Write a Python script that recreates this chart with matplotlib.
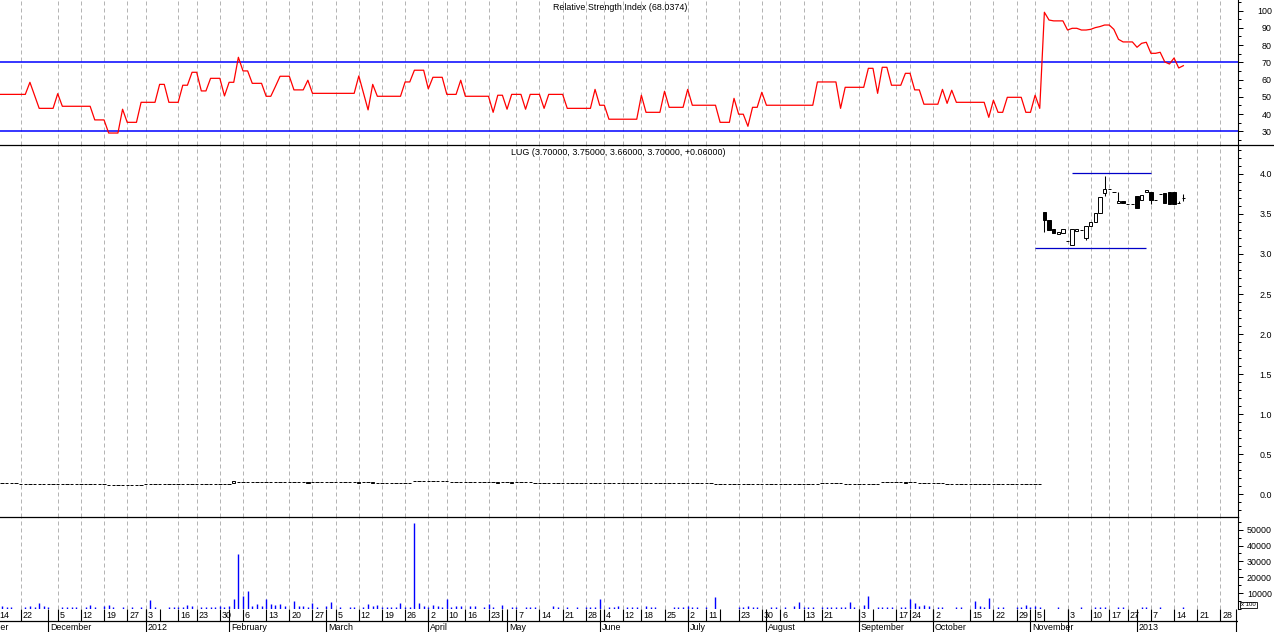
import numpy as np
import matplotlib.pyplot as plt
from matplotlib.lines import Line2D
from matplotlib.patches import Rectangle
from matplotlib.ticker import MultipleLocator

plt.rcParams['font.family'] = ['Liberation Sans', 'DejaVu Sans']

# RSI value per trading bar (bar 0 = 14 Nov 2011, last bar = mid Jan 2013)
rsi = [51.4, 51.4, 51.4, 51.4, 51.4, 51.4, 51.4, 58.4, 50.8, 43.3,
       43.3, 43.3, 43.3, 51.8, 44.5, 44.5, 44.5, 44.5, 44.5, 44.5,
       44.5, 36.6, 36.6, 36.6, 29.0, 29.0, 29.0, 42.8, 35.2, 35.2,
       35.2, 46.8, 46.8, 46.8, 46.8, 57.2, 57.2, 46.8, 46.8, 46.8,
       56.7, 56.7, 64.2, 64.2, 53.4, 53.4, 60.7, 60.7, 60.7, 50.5,
       58.4, 58.4, 72.9, 65.0, 65.0, 57.8, 57.8, 57.8, 50.3, 50.3,
       56.0, 61.9, 61.9, 61.9, 54.0, 54.0, 54.0, 59.6, 52.0, 52.0,
       52.0, 52.0, 52.0, 52.0, 52.0, 52.0, 52.0, 52.0, 62.1, 52.2,
       42.4, 57.2, 50.3, 50.3, 50.3, 50.3, 50.3, 50.3, 58.6, 58.6,
       65.4, 65.4, 65.4, 54.6, 61.3, 61.3, 61.3, 51.4, 51.4, 51.4,
       59.6, 50.3, 50.3, 50.3, 50.3, 50.3, 50.3, 41.0, 50.9, 50.9,
       42.8, 51.4, 51.4, 51.4, 42.8, 51.4, 51.4, 51.4, 43.3, 51.4,
       51.4, 51.4, 51.4, 43.3, 43.3, 43.3, 43.3, 43.3, 43.3, 54.3,
       45.1, 45.1, 37.0, 37.0, 37.0, 37.0, 37.0, 37.0, 37.0, 50.9,
       41.0, 41.0, 41.0, 41.0, 53.2, 43.9, 43.9, 43.9, 43.9, 54.3,
       45.1, 45.1, 45.1, 45.1, 45.1, 45.1, 35.2, 35.2, 35.2, 49.1,
       39.9, 39.9, 32.9, 43.9, 43.9, 52.6, 45.1, 45.1, 45.1, 45.1,
       45.1, 45.1, 45.1, 45.1, 45.1, 45.1, 45.1, 58.6, 58.6, 58.6,
       58.6, 58.6, 43.3, 55.5, 55.5, 55.5, 55.5, 55.5, 66.5, 66.5,
       52.0, 67.1, 67.1, 56.7, 56.7, 56.7, 63.6, 63.6, 54.0, 54.0,
       45.7, 45.7, 45.7, 45.7, 54.3, 46.2, 53.8, 46.8, 46.8, 46.8,
       46.8, 46.8, 46.8, 46.8, 38.1, 48.0, 41.0, 41.0, 49.7, 49.7,
       49.7, 49.7, 41.0, 41.0, 50.9, 43.3, 99.0, 94.5, 94.0, 94.0,
       94.0, 88.7, 89.7, 89.7, 88.7, 88.7, 89.1, 90.1, 90.7, 91.6,
       91.6, 89.1, 83.3, 81.8, 81.8, 81.8, 78.7, 81.0, 81.6, 75.2,
       75.2, 75.8, 70.2, 69.0, 72.5, 66.7, 68.04]

# old quote before the jump (bars 0-225), mostly flat dashes
old_close = [0.133, 0.133, 0.133, 0.133, 0.133, 0.125, 0.125, 0.125, 0.125, 0.125,
             0.130, 0.130, 0.130, 0.125, 0.125, 0.125, 0.125, 0.125, 0.125, 0.125,
             0.125, 0.125, 0.125, 0.125, 0.115, 0.115, 0.115, 0.115, 0.115, 0.115,
             0.115, 0.115, 0.120, 0.120, 0.120, 0.120, 0.120, 0.120, 0.120, 0.120,
             0.127, 0.127, 0.127, 0.127, 0.127, 0.127, 0.127, 0.127, 0.127, 0.127,
             0.127, 0.162, 0.146, 0.146, 0.146, 0.146, 0.146, 0.146, 0.146, 0.146,
             0.146, 0.146, 0.146, 0.150, 0.150, 0.150, 0.150, 0.150, 0.146, 0.146,
             0.146, 0.146, 0.146, 0.146, 0.146, 0.146, 0.146, 0.146, 0.150, 0.150,
             0.150, 0.150, 0.142, 0.142, 0.142, 0.142, 0.142, 0.142, 0.142, 0.142,
             0.162, 0.162, 0.162, 0.162, 0.162, 0.162, 0.162, 0.162, 0.154, 0.154,
             0.154, 0.154, 0.154, 0.154, 0.154, 0.154, 0.154, 0.154, 0.146, 0.146,
             0.146, 0.146, 0.146, 0.146, 0.146, 0.146, 0.140, 0.140, 0.140, 0.140,
             0.140, 0.140, 0.140, 0.140, 0.140, 0.140, 0.140, 0.140, 0.140, 0.140,
             0.140, 0.140, 0.140, 0.140, 0.140, 0.140, 0.140, 0.140, 0.140, 0.133,
             0.133, 0.133, 0.133, 0.133, 0.133, 0.133, 0.133, 0.133, 0.133, 0.133,
             0.133, 0.133, 0.133, 0.133, 0.133, 0.125, 0.125, 0.125, 0.125, 0.125,
             0.128, 0.128, 0.128, 0.128, 0.128, 0.128, 0.128, 0.125, 0.125, 0.125,
             0.125, 0.125, 0.125, 0.125, 0.125, 0.125, 0.125, 0.125, 0.133, 0.133,
             0.133, 0.133, 0.133, 0.130, 0.130, 0.130, 0.130, 0.130, 0.130, 0.130,
             0.130, 0.146, 0.146, 0.146, 0.146, 0.146, 0.146, 0.146, 0.146, 0.133,
             0.133, 0.133, 0.133, 0.133, 0.133, 0.130, 0.130, 0.130, 0.130, 0.130,
             0.130, 0.130, 0.130, 0.130, 0.130, 0.130, 0.125, 0.125, 0.125, 0.125,
             0.125, 0.125, 0.125, 0.125, 0.125, 0.121]
old_box_bars = [51, 67, 78, 81, 88, 108, 111, 116, 119, 190, 196]
old_box_open = [0.142, 0.140, 0.142, 0.143, 0.136, 0.140, 0.139, 0.133, 0.133, 0.123, 0.138]

# candles after the jump (bars 226-256)
new_open = [3.52, 3.43, 3.31, 3.255, 3.267, 3.16, 3.11, 3.29, 3.30, 3.20,
            3.35, 3.395, 3.51, 3.76, 3.81, 3.77, 3.635, 3.66, 3.63, 3.625,
            3.725, 3.675, 3.77, 3.78, 3.68, 3.745, 3.76, 3.77, 3.77, 3.64, 3.70]
new_high = [3.52, 3.43, 3.31, 3.27, 3.309, 3.16, 3.31, 3.31, 3.30, 3.35,
            3.395, 3.51, 3.71, 3.975, 3.81, 3.77, 3.77, 3.66, 3.63, 3.625,
            3.725, 3.74, 3.80, 3.78, 3.68, 3.745, 3.76, 3.77, 3.77, 3.66, 3.75]
new_low = [3.27, 3.30, 3.26, 3.255, 3.267, 3.16, 3.11, 3.29, 3.30, 3.18,
           3.35, 3.395, 3.51, 3.725, 3.81, 3.77, 3.635, 3.635, 3.63, 3.625,
           3.58, 3.675, 3.77, 3.62, 3.68, 3.745, 3.635, 3.625, 3.625, 3.64, 3.66]
new_close = [3.43, 3.30, 3.26, 3.27, 3.309, 3.16, 3.31, 3.31, 3.30, 3.35,
             3.395, 3.51, 3.71, 3.81, 3.81, 3.77, 3.665, 3.635, 3.63, 3.625,
             3.58, 3.74, 3.80, 3.675, 3.68, 3.745, 3.635, 3.625, 3.625, 3.64, 3.70]

# volume (x 100)
vol_bars = [1, 2, 3, 6, 7, 8, 9, 10, 11, 14, 15, 16, 17, 19, 20, 21, 23, 24, 25, 27,
            29, 31, 33, 34, 37, 38, 39, 40, 41, 42, 44, 45, 46, 47, 48, 49, 50, 51, 52, 53,
            54, 55, 56, 57, 58, 59, 60, 61, 62, 64, 65, 66, 67, 68, 69, 71, 72, 74, 76, 77,
            79, 80, 81, 82, 83, 84, 85, 86, 87, 88, 89, 90, 91, 92, 93, 94, 95, 96, 97, 98,
            99, 100, 102, 103, 105, 106, 107, 109, 111, 112, 114, 115, 116, 120, 121, 123, 125, 127, 128, 129,
            130, 132, 133, 134, 136, 137, 138, 140, 141, 142, 146, 147, 148, 149, 150, 151, 153, 155, 160, 161,
            162, 163, 164, 167, 168, 170, 172, 173, 174, 175, 176, 178, 179, 180, 181, 182, 183, 184, 185, 187,
            188, 190, 191, 192, 193, 195, 196, 197, 198, 199, 200, 201, 203, 204, 207, 208, 211, 212, 213, 214,
            216, 217, 220, 221, 222, 223, 224, 225, 229, 234, 237, 238, 239, 242, 243, 247, 248, 251, 256]
vol_values = [1800, 1000, 1000, 1000, 1800, 1000, 3900, 1800, 1000, 1000, 1000, 1000, 1000, 1000, 2450, 1000, 2000, 2450, 1000, 1000,
              1000, 1000, 5600, 1000, 1000, 1000, 1000, 1000, 2450, 1800, 1000, 1000, 1000, 1000, 1800, 1000, 1800, 6000, 34700, 8500,
              11600, 1800, 3070, 1800, 6000, 3070, 2450, 3070, 1800, 5160, 1800, 1800, 1000, 3900, 1000, 1800, 4530, 1000, 1000, 1000,
              1000, 3070, 1800, 2450, 1000, 1000, 1000, 1000, 3900, 1000, 1000, 54200, 3900, 1800, 1000, 2450, 1800, 1000, 6300, 1000,
              1800, 1800, 1800, 1800, 1000, 3070, 1000, 2450, 1000, 1000, 1000, 1000, 1000, 1800, 1000, 1000, 1000, 1000, 1000, 1000,
              6300, 1000, 1000, 1800, 1000, 1000, 1000, 1800, 1000, 1000, 1000, 1000, 1000, 1800, 1000, 1000, 1000, 7500, 1000, 1000,
              1800, 1000, 1000, 1000, 1000, 1000, 1800, 4500, 1000, 1000, 1000, 1000, 1000, 1000, 1000, 1000, 1000, 4500, 1000, 2450,
              8100, 1000, 1000, 1000, 1000, 1000, 1000, 6300, 3900, 1800, 2450, 1800, 1000, 1000, 1000, 1000, 5200, 1800, 1000, 7100,
              1000, 1000, 1000, 1000, 2450, 1000, 1800, 1000, 1000, 1000, 1000, 1000, 1000, 1000, 1000, 1000, 1000, 1000, 1000]

# support / resistance lines drawn on the price panel
trend_start = [232, 224]
trend_end = [249, 248]
trend_level = [4.01, 3.08]

# date axis (bar index of each label)
day_bars = [0, 5, 13, 18, 23, 28, 32, 39, 43, 48, 53, 58, 63, 68, 73, 78, 83, 88, 93, 97,
            101, 106, 112, 117, 122, 127, 131, 135, 139, 144, 149, 153, 160, 165, 169, 174, 178, 186, 194, 197,
            202, 210, 215, 220, 224, 231, 236, 240, 244, 249, 254, 259, 264]
day_labels = ['14', '22', '5', '12', '19', '27', '3', '16', '23', '30', '6', '13', '20', '27', '5', '12', '19', '26', '2', '10',
              '16', '23', '7', '14', '21', '28', '4', '12', '18', '25', '2', '11', '23', '30', '6', '13', '21', '3', '17', '24',
              '2', '15', '22', '29', '5', '3', '10', '17', '27', '7', '14', '21', '28']
extra_day_bars = [35, 109, 156, 189, 226]
month_bars = [-7, 11, 32, 50, 71, 93, 110, 130, 149, 166, 186, 202, 223, 231, 246, 267.4]
month_labels = ['November', 'December', '2012', 'February', 'March', 'April', 'May', 'June',
                'July', 'August', 'September', 'October', 'November', '', '2013', '']

W, H = 1274, 632
XR = 1238
fig = plt.figure(figsize=(W / 100, H / 100), dpi=100)


def rect(top, bottom):
    return [0, 1 - bottom / H, XR / W, (bottom - top) / H]


ax_rsi = fig.add_axes(rect(0, 145))
ax_px = fig.add_axes(rect(145, 517))
ax_vol = fig.add_axes(rect(517, 609))
ax_date = fig.add_axes(rect(609, 632))

xlim = (0.54, 267.8)
fs = 6.4
grid_kw = dict(color='#b4b4b4', lw=0.72, ls=(0, (4, 3)))

for ax in (ax_rsi, ax_px, ax_vol):
    ax.set_xlim(xlim)
    ax.set_xticks([])
    for s in ('left', 'top', 'bottom'):
        ax.spines[s].set_visible(False)
    ax.spines['right'].set_linewidth(0.8)
    for b in day_bars:
        ax.axvline(b, **grid_kw, zorder=0)
    ax.yaxis.tick_right()
    ax.tick_params(axis='y', which='major', length=3.6, width=0.72, labelsize=fs, pad=20.8)
    ax.tick_params(axis='y', which='minor', length=1.8, width=0.72)

# RSI panel
x = np.arange(len(rsi))
ax_rsi.plot(x, rsi, color='red', lw=0.9, zorder=3)
ax_rsi.axhline(70, color='blue', lw=1.1, zorder=2)
ax_rsi.axhline(30, color='blue', lw=1.1, zorder=2)
ax_rsi.set_ylim(22.06, 106.1)
ax_rsi.set_yticks(np.arange(30, 101, 10))
ax_rsi.yaxis.set_minor_locator(MultipleLocator(5))

# price panel
opens = list(old_close)
for b, o in zip(old_box_bars, old_box_open):
    opens[b] = o
highs = [max(o, c) for o, c in zip(opens, old_close)] + new_high
lows = [min(o, c) for o, c in zip(opens, old_close)] + new_low
opens = opens + new_open
closes = list(old_close) + new_close

wick_x, wick_lo, wick_hi = [], [], []
for i, (o, h, l, c) in enumerate(zip(opens, highs, lows, closes)):
    if h > l:
        wick_x.append(i)
        wick_lo.append(l)
        wick_hi.append(h)
ax_px.vlines(wick_x, wick_lo, wick_hi, color='black', lw=0.75, zorder=3)
for i, (o, c) in enumerate(zip(opens, closes)):
    face = 'white' if c >= o else 'black'
    ax_px.add_patch(Rectangle((i - 0.36, min(o, c)), 0.72, abs(c - o),
                              facecolor=face, edgecolor='black', lw=0.7, zorder=4))
ax_px.hlines(trend_level, trend_start, trend_end, color='#0000c8', lw=0.9, zorder=2)
ax_px.set_ylim(-0.2875, 4.3625)
ax_px.set_yticks(np.arange(0, 4.01, 0.5))
ax_px.set_yticklabels(['%.1f' % v for v in np.arange(0, 4.01, 0.5)])
ax_px.yaxis.set_minor_locator(MultipleLocator(0.1))

# volume panel
ax_vol.vlines(vol_bars, 0, vol_values, color='blue', lw=1.0, capstyle='butt', zorder=3)
ax_vol.set_ylim(0, 58000)
ax_vol.set_yticks(np.arange(10000, 50001, 10000))
ax_vol.set_yticklabels([str(v) for v in range(10000, 50001, 10000)])
ax_vol.yaxis.set_minor_locator(MultipleLocator(5000))

for ax in (ax_rsi, ax_px, ax_vol):
    plt.setp(ax.get_yticklabels(), ha='right')

# date axis
ax_date.set_xlim(xlim)
ax_date.set_ylim(0, 23)
ax_date.axis('off')
ax_date.axhline(11, color='black', lw=0.9)
ax_date.vlines(day_bars + extra_day_bars, 11, 23, color='black', lw=0.8)
ax_date.vlines(month_bars, 0, 23, color='black', lw=0.8, clip_on=False)
for b, lab in zip(day_bars, day_labels):
    ax_date.text(b + 0.4, 16.3, lab, ha='left', va='center', fontsize=fs)
for b, lab in zip(month_bars, month_labels):
    ax_date.text(b + 0.4, 4.6, lab, ha='left', va='center', fontsize=fs)

# panel separators
fig.add_artist(Line2D([0, 1], [1 - 145 / H] * 2, color='black', lw=0.9))
fig.add_artist(Line2D([0, XR / W], [1 - 517 / H] * 2, color='black', lw=0.9))

fig.text(620 / W, 1 - 7 / H, 'Relative Strength Index (68.0374)', ha='center', va='center', fontsize=fs)
fig.text(618 / W, 1 - 152.5 / H, 'LUG (3.70000, 3.75000, 3.66000, 3.70000, +0.06000)',
         ha='center', va='center', fontsize=fs)
fig.text(1241 / W, 1 - 605 / H, 'x 100', ha='left', va='center', fontsize=4.3,
         bbox=dict(boxstyle='square,pad=0.15', fc='white', ec='black', lw=0.6))

fig.savefig('out.png', dpi=100)
